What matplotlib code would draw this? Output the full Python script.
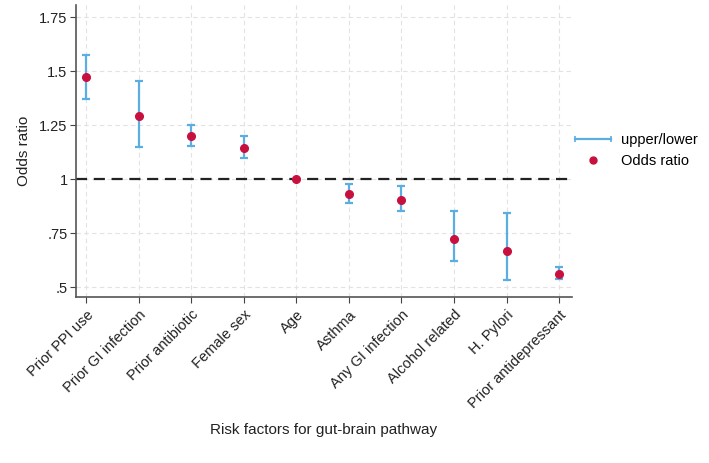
import matplotlib.pyplot as plt
from matplotlib.lines import Line2D
from matplotlib.legend_handler import HandlerLine2D

plt.rcParams['font.family'] = ['Liberation Sans', 'DejaVu Sans']

factors = ['Prior PPI use', 'Prior GI infection', 'Prior antibiotic', 'Female sex',
           'Age', 'Asthma', 'Any GI infection', 'Alcohol related', 'H. Pylori',
           'Prior antidepressant']
odds = [1.472, 1.292, 1.199, 1.145, 1.0, 0.934, 0.906, 0.725, 0.668, 0.563]
upper = [1.574, 1.455, 1.250, 1.199, 1.003, 0.980, 0.968, 0.852, 0.844, 0.594]
lower = [1.370, 1.148, 1.154, 1.097, 0.997, 0.890, 0.852, 0.622, 0.532, 0.540]

ytick_vals = [0.5, 0.75, 1.0, 1.25, 1.5, 1.75]
ytick_labels = ['.5', '.75', '1', '1.25', '1.5', '1.75']

bar_col = '#5aaee2'
dot_col = '#c8103e'

fig = plt.figure(figsize=(7.09, 4.63), dpi=100)
ax = fig.add_axes([0.107, 0.358, 0.700, 0.631])

x = list(range(len(factors)))
ax.vlines(x, lower, upper, color=bar_col, lw=1.6, zorder=2)
ax.plot(x, upper, ls='none', marker='_', ms=6, mew=1.6, color=bar_col, zorder=2)
ax.plot(x, lower, ls='none', marker='_', ms=6, mew=1.6, color=bar_col, zorder=2)
ax.plot(x, odds, ls='none', marker='o', ms=5.5, color=dot_col, zorder=3)

ax.axhline(1.0, color='#222222', ls=(0, (5, 3)), lw=1.6, zorder=1)

ax.set_xlim(-0.2, 9.25)
ax.set_ylim(0.454, 1.806)
ax.set_yticks(ytick_vals)
ax.set_yticklabels(ytick_labels)
ax.set_xticks(x)
ax.set_xticklabels(factors, rotation=45, ha='right', rotation_mode='anchor')
ax.tick_params(labelsize=10.5, length=4, color='#444444', labelcolor='#222222')
ax.tick_params(axis='y', pad=2)

ax.grid(True, color='#e2e2e2', ls=(0, (4, 3)), lw=0.8)
ax.set_axisbelow(True)
for s in ['top', 'right']:
    ax.spines[s].set_visible(False)
for s in ['left', 'bottom']:
    ax.spines[s].set_color('#555555')
    ax.spines[s].set_linewidth(1.2)

ax.set_ylabel('Odds ratio', fontsize=11, color='#222222', labelpad=6)
ax.set_xlabel('Risk factors for gut-brain pathway', fontsize=11, color='#222222', labelpad=9)

h1 = Line2D([], [], color=bar_col, lw=1.6, marker='|', ms=4, mew=1.2)
h2 = Line2D([], [], ls='none', marker='o', ms=5, color=dot_col)
fig.legend([h1, h2], ['upper/lower', 'Odds ratio'], loc='center left',
           bbox_to_anchor=(0.786, 0.675), frameon=False, fontsize=10.5,
           handlelength=3.1, handletextpad=0.35, labelspacing=0.5,
           handler_map={h1: HandlerLine2D(numpoints=2)})

fig.savefig('out.png', dpi=100)
